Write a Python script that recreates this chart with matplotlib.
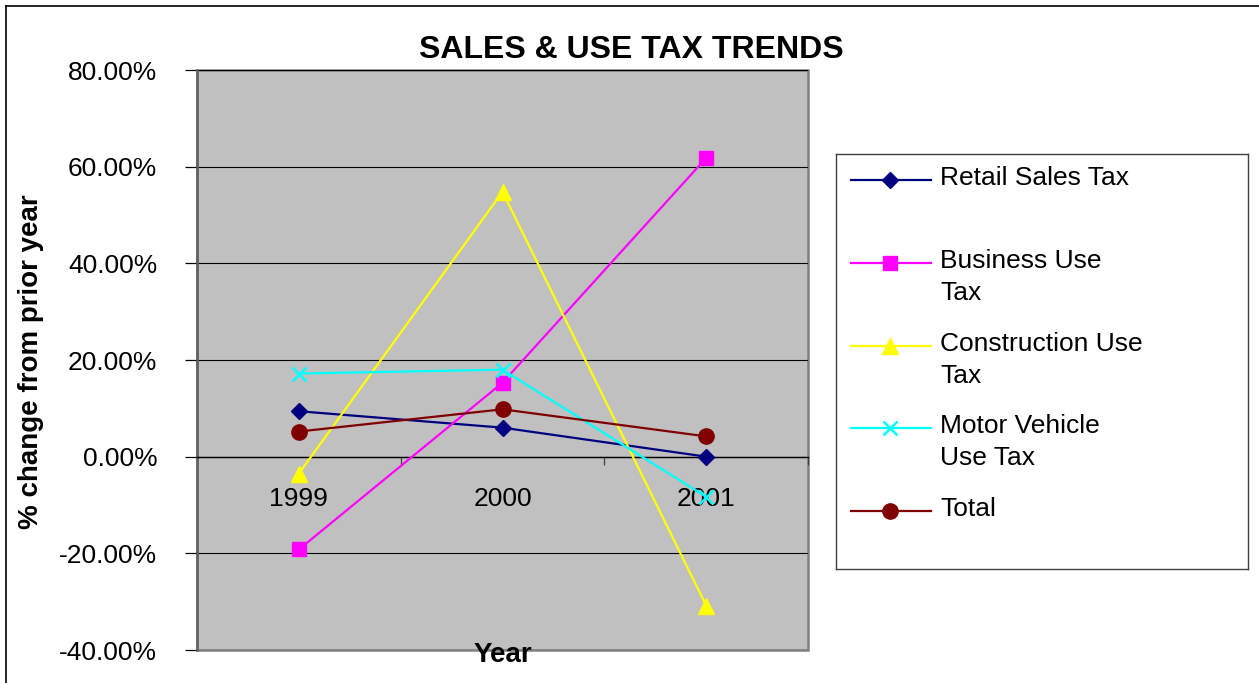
import matplotlib
matplotlib.use("Agg")
import matplotlib.pyplot as plt
from matplotlib.lines import Line2D

# ---- data ----
years = ["1999", "2000", "2001"]
retail_sales = [0.094, 0.060, 0.000]
business_use = [-0.192, 0.153, 0.618]
construction_use = [-0.035, 0.548, -0.308]
motor_vehicle_use = [0.172, 0.180, -0.083]
total = [0.052, 0.098, 0.042]
series_names = ["Retail Sales Tax", "Business Use\nTax", "Construction Use\nTax",
                "Motor Vehicle\nUse Tax", "Total"]
y_ticks = [-0.4, -0.2, 0.0, 0.2, 0.4, 0.6, 0.8]
y_tick_labels = ["-40.00%", "-20.00%", "0.00%", "20.00%", "40.00%", "60.00%", "80.00%"]
title = "SALES & USE TAX TRENDS"
x_title = "Year"
y_title = "% change from prior year"

W, H = 1259, 683
FONT = "Liberation Sans"
plt.rcParams["font.family"] = [FONT, "DejaVu Sans"]

fig = plt.figure(figsize=(W / 100, H / 100), dpi=100)
fig.patch.set_facecolor("white")

# outer chart border (top and left visible)
fig.add_artist(Line2D([5.5 / W, 1.0], [1 - 5.5 / H, 1 - 5.5 / H], transform=fig.transFigure,
                      color="black", lw=1.2))
fig.add_artist(Line2D([5.5 / W, 5.5 / W], [0.0, 1 - 5.5 / H], transform=fig.transFigure,
                      color="black", lw=1.2))

# ---- plot area ----
L, T, R, B = 197, 70, 808, 650
ax = fig.add_axes([L / W, 1 - B / H, (R - L) / W, (B - T) / H])
ax.set_facecolor("#C0C0C0")
ax.patch.set_edgecolor("#808080")
ax.patch.set_linewidth(1.8)

xs = list(range(len(years)))
styles = [
    (retail_sales, "#000080", "D", 8, {}),
    (business_use, "#FF00FF", "s", 10.5, {}),
    (construction_use, "#FFFF00", "^", 11, {}),
    (motor_vehicle_use, "#00FFFF", "x", 10, {"markeredgewidth": 1.8}),
    (total, "#800000", "o", 11, {}),
]
for vals, col, mk, ms, extra in styles:
    ax.plot(xs, vals, color=col, lw=1.6, marker=mk, markersize=ms,
            markerfacecolor=col, markeredgecolor=col, zorder=3, clip_on=False, **extra)

ax.set_xlim(-0.5, len(years) - 0.5)
ax.set_ylim(-0.4, 0.8)

ax.set_yticks(y_ticks)
ax.set_yticklabels(y_tick_labels, fontsize=19)
ax.tick_params(axis="y", direction="out", length=8.6, width=0.9, color="black", pad=20)
ax.yaxis.grid(True, color="black", lw=0.8)
ax.set_axisbelow(True)

for s in ["top", "right"]:
    ax.spines[s].set_visible(False)
ax.spines["left"].set_color("#606060")
ax.spines["left"].set_linewidth(1.8)
ax.spines["bottom"].set_position(("data", 0))
ax.spines["bottom"].set_color("black")
ax.spines["bottom"].set_linewidth(1.0)

ax.set_xticks(xs)
ax.set_xticklabels(years, fontsize=19)
ax.set_xticks([x - 0.5 for x in range(len(years) + 1)], minor=True)
ax.tick_params(axis="x", which="major", length=0, pad=21.5)
ax.tick_params(axis="x", which="minor", direction="out", length=6, width=0.9, color="#404040")

# titles
fig.text(631 / W, 1 - 50 / H, title, ha="center", va="center", fontsize=23,
         fontweight="bold")
fig.text(503 / W, 1 - 655 / H, x_title, ha="center", va="center", fontsize=20,
         fontweight="bold")
fig.text(31 / W, 1 - 362 / H, y_title, ha="center", va="center", fontsize=20,
         fontweight="bold", rotation=90)

# ---- legend (manual, to keep markers beside first line) ----
LL, LT, LR, LB = 835.5, 153.5, 1248, 569
lax = fig.add_axes([LL / W, 1 - LB / H, (LR - LL) / W, (LB - LT) / H])
lax.set_xlim(0, LR - LL)
lax.set_ylim(LB - LT, 0)
lax.set_xticks([])
lax.set_yticks([])
for s in lax.spines.values():
    s.set_color("#404040")
    s.set_linewidth(1.0)
entry_y = [26.5, 109.5, 192.5, 274.5, 357.5]
for (vals, col, mk, ms, extra), name, yy in zip(styles, series_names, entry_y):
    lax.plot([15, 95], [yy, yy], color=col, lw=1.6)
    lax.plot([54], [yy], color=col, marker=mk, markersize=ms, markerfacecolor=col,
             markeredgecolor=col, **extra)
    lax.text(105, yy - 14.5, name, fontsize=19, va="top", ha="left", linespacing=1.45)

fig.savefig("out.png", dpi=100, facecolor="white")
